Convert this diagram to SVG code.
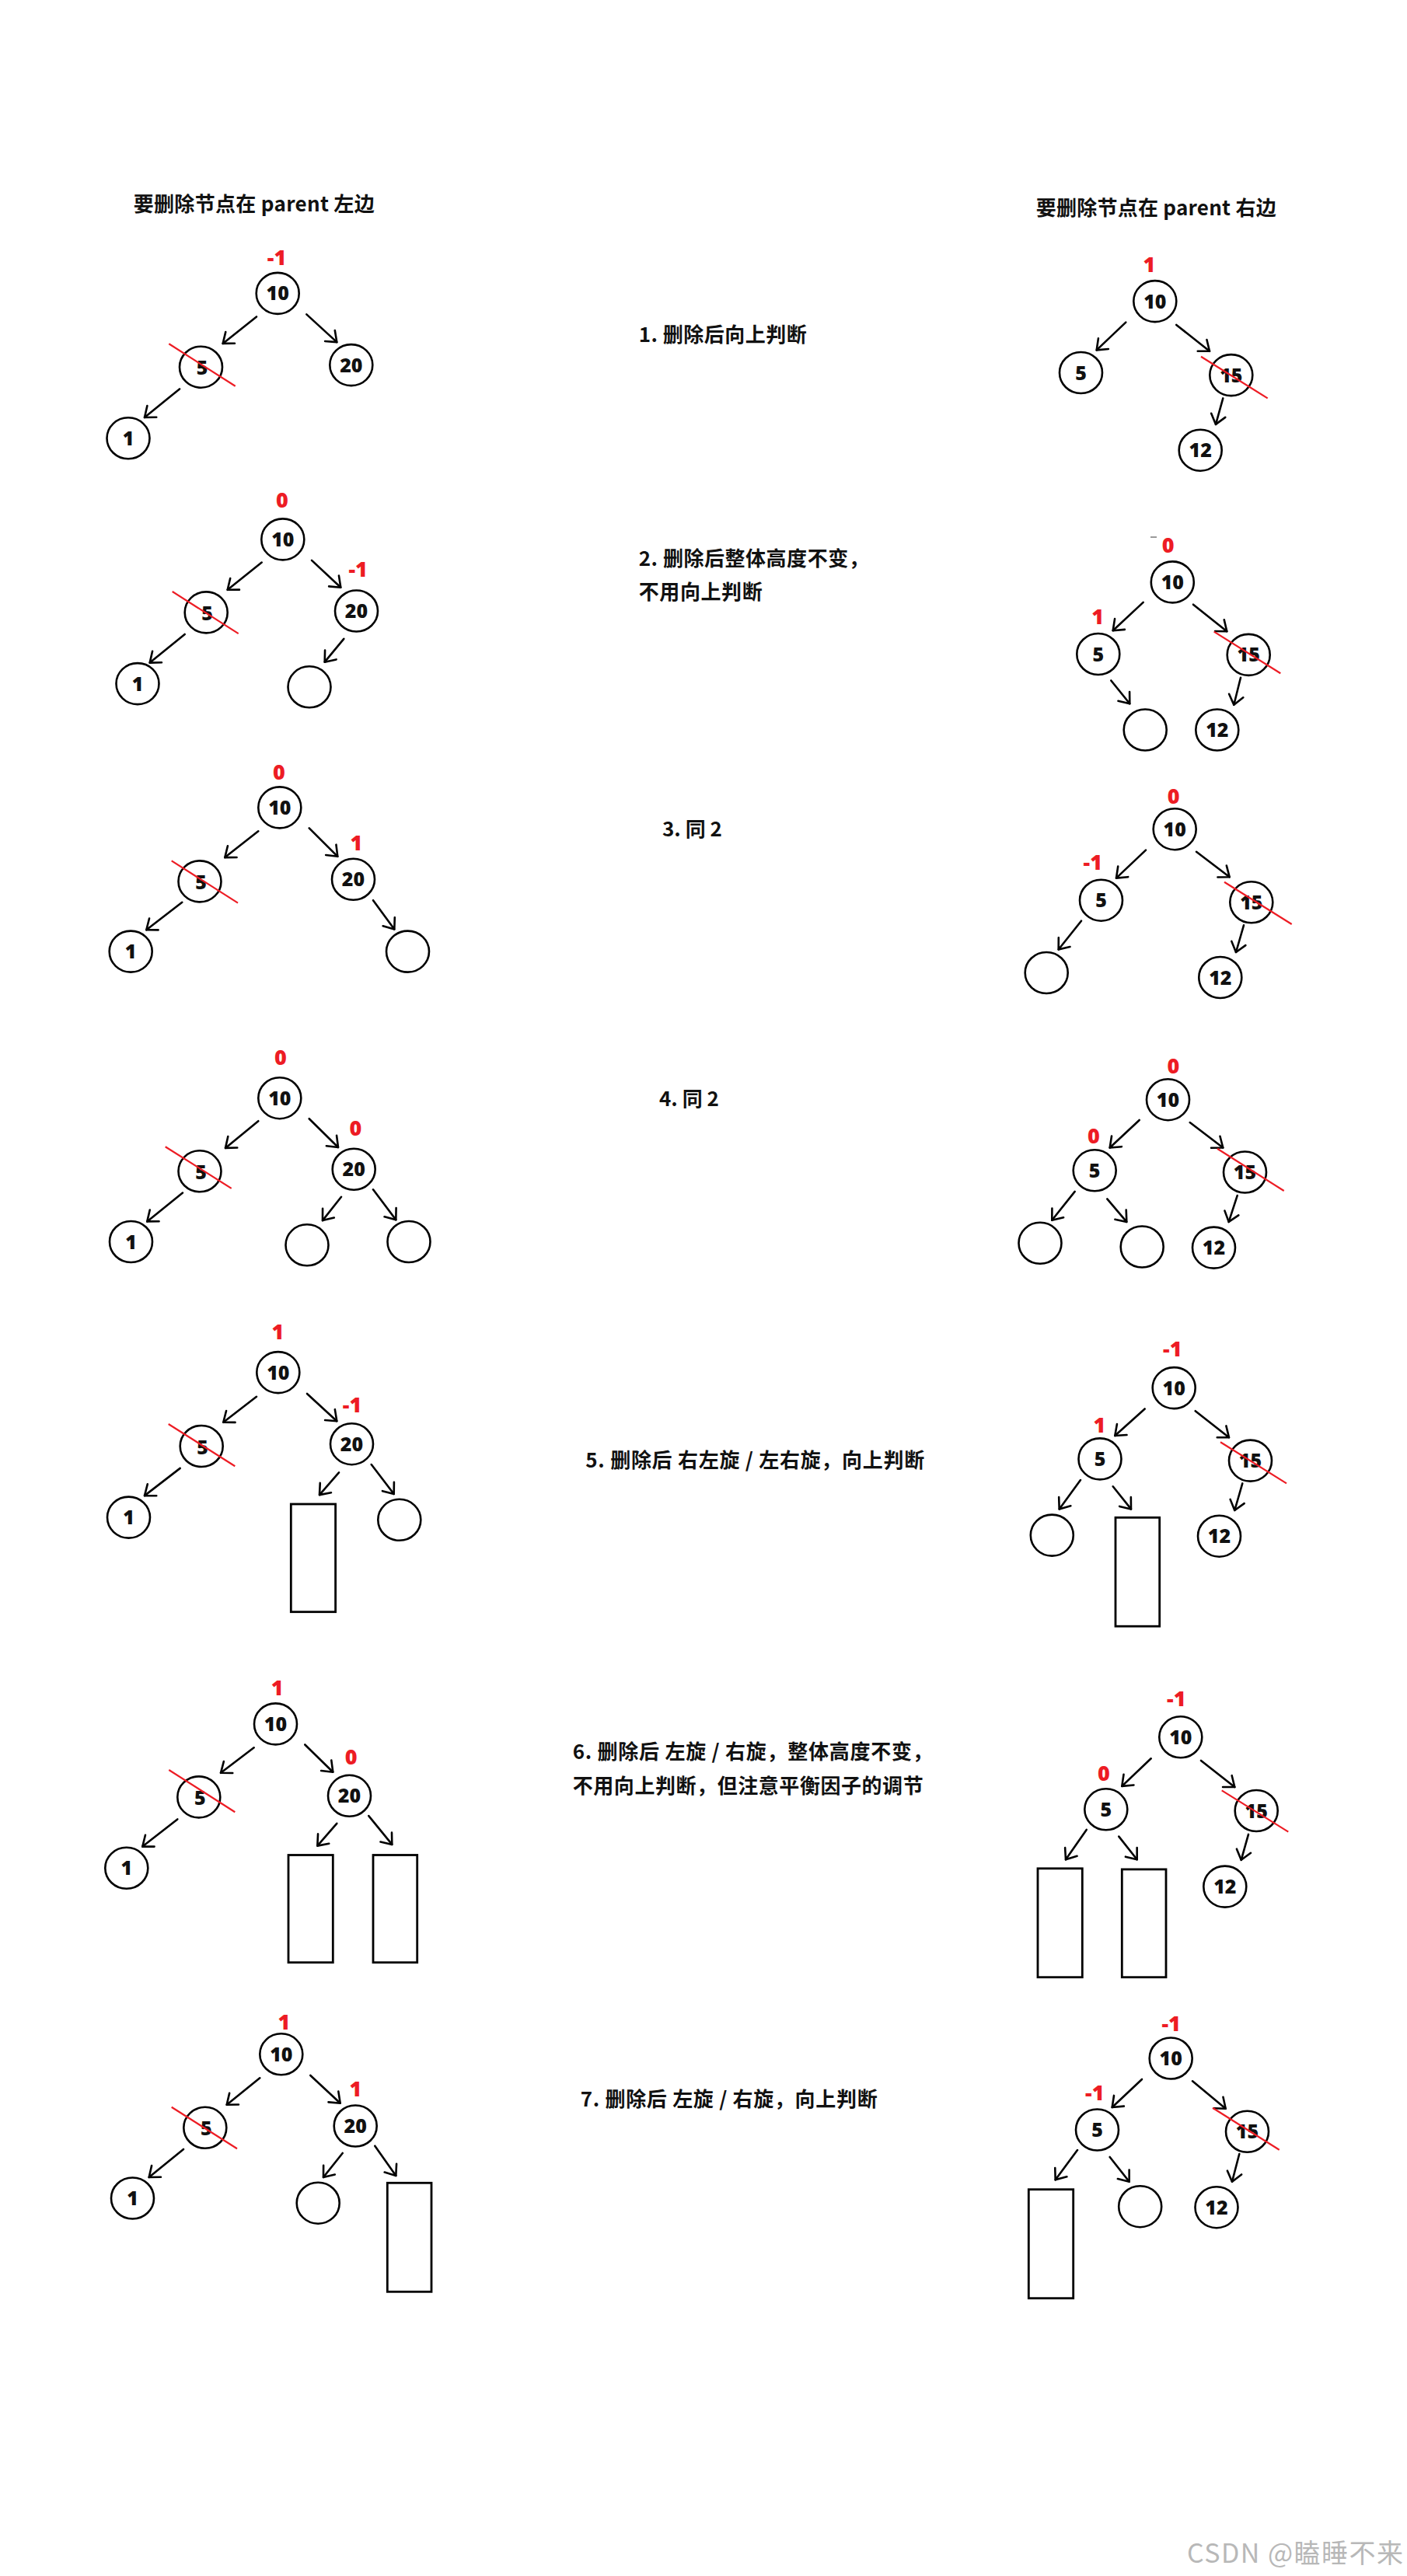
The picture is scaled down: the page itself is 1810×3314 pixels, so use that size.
<svg xmlns="http://www.w3.org/2000/svg" width="1810" height="3314" viewBox="0 0 1810 3314">
<style>
.bg{fill:#fff}
.nd ellipse{fill:#fff;stroke:#000;stroke-width:2.6}
.box{fill:#fff;stroke:#000;stroke-width:2.8}
.n{font-family:"Open Sans","Noto Sans",sans-serif;font-weight:800;font-size:25px;fill:#111;text-anchor:middle}
.bf{font-family:"Open Sans","Noto Sans",sans-serif;font-weight:800;font-size:27px;fill:#ed1c24;text-anchor:middle}
.st{stroke:#ed1c24;stroke-width:2.2}
.t{font-family:"Noto Sans CJK SC","Noto Sans CJK JP",sans-serif;font-weight:700;font-size:26px;fill:#111}
.wm{font-family:"Noto Sans CJK SC","Noto Sans",sans-serif;font-size:34px;fill:#b8b8b8}
#edges line{stroke:#000;stroke-width:2.6;stroke-linecap:round;marker-end:url(#ah)}
</style>
<defs>
<marker id="ah" markerUnits="userSpaceOnUse" markerWidth="24" markerHeight="24" refX="0" refY="0" orient="auto" style="overflow:visible">
<path d="M -12 -9.4 L 0 0 L -12 9.4" fill="none" stroke="#000" stroke-width="2.6" stroke-linecap="round" stroke-linejoin="round"/>
</marker>
</defs>
<rect class="bg" x="0" y="0" width="1810" height="3314"/>

<g id="texts">
<text class="t" x="171.7" y="272" textLength="310">要删除节点在 parent 左边</text>
<text class="t" x="1332.7" y="277" textLength="309">要删除节点在 parent 右边</text>
<text class="t" x="821.7" y="440" textLength="216">1. 删除后向上判断</text>
<text class="t" x="821.7" y="727.7" textLength="296">2. 删除后整体高度不变，</text>
<text class="t" x="821.7" y="771" textLength="159">不用向上判断</text>
<text class="t" x="852" y="1076">3. 同 2</text>
<text class="t" x="848" y="1423">4. 同 2</text>
<text class="t" x="753.3" y="1887.7" textLength="436">5. 删除后 右左旋 / 左右旋，向上判断</text>
<text class="t" x="736.7" y="2263.3" textLength="463">6. 删除后 左旋 / 右旋，整体高度不变，</text>
<text class="t" x="736.7" y="2306.7" textLength="451">不用向上判断，但注意平衡因子的调节</text>
<text class="t" x="746.7" y="2710" textLength="382">7. 删除后 左旋 / 右旋，向上判断</text>
<text class="wm" x="1527" y="3297" textLength="278">CSDN @瞌睡不来</text>
<line x1="1480" y1="691" x2="1488" y2="691" stroke="#9a9a9a" stroke-width="2"/>
</g>

<g id="edges">
<line x1="330" y1="407.5" x2="286.7" y2="441.9"/>
<line x1="394.3" y1="404.4" x2="433.3" y2="440.1"/>
<line x1="231" y1="500.4" x2="186" y2="537"/>
<line x1="336.7" y1="723.6" x2="292.7" y2="758.8"/>
<line x1="401" y1="720.9" x2="438.3" y2="755.7"/>
<line x1="442.3" y1="821.8" x2="417.7" y2="851.7"/>
<line x1="237.7" y1="816" x2="192.7" y2="852.6"/>
<line x1="332.3" y1="1069.3" x2="289.3" y2="1103.1"/>
<line x1="397.7" y1="1065.4" x2="434.3" y2="1101.8"/>
<line x1="480" y1="1158.2" x2="507.3" y2="1195.5"/>
<line x1="234.3" y1="1160.8" x2="188.3" y2="1196.3"/>
<line x1="332.3" y1="1442.2" x2="290" y2="1476.9"/>
<line x1="397.7" y1="1439.2" x2="435" y2="1476"/>
<line x1="439" y1="1539.8" x2="415" y2="1570.1"/>
<line x1="480" y1="1530.3" x2="509.3" y2="1569.3"/>
<line x1="235" y1="1534.6" x2="189.3" y2="1571.4"/>
<line x1="330" y1="1796.8" x2="287.3" y2="1829.8"/>
<line x1="395" y1="1793" x2="433.3" y2="1828.2"/>
<line x1="436" y1="1894.3" x2="411" y2="1923.1"/>
<line x1="477.7" y1="1884" x2="506.7" y2="1922"/>
<line x1="231.7" y1="1888.9" x2="186" y2="1924.1"/>
<line x1="326.7" y1="2248.3" x2="284" y2="2280.8"/>
<line x1="392.3" y1="2244.5" x2="428.3" y2="2279.7"/>
<line x1="433.3" y1="2345.8" x2="408.3" y2="2374.6"/>
<line x1="474.3" y1="2336.1" x2="504.3" y2="2372.9"/>
<line x1="228.3" y1="2340.4" x2="183.3" y2="2375.6"/>
<line x1="334.3" y1="2673.3" x2="291.7" y2="2707.7"/>
<line x1="399.3" y1="2670" x2="437.7" y2="2705.7"/>
<line x1="440.7" y1="2770" x2="416" y2="2801"/>
<line x1="482.3" y1="2760.7" x2="509.3" y2="2799"/>
<line x1="236" y1="2765" x2="191.7" y2="2801"/>
<line x1="1448.3" y1="414.6" x2="1410.7" y2="450.4"/>
<line x1="1513.3" y1="417.9" x2="1556" y2="451.8"/>
<line x1="1573.3" y1="512.4" x2="1564" y2="545.9"/>
<line x1="1470.7" y1="774.9" x2="1431.7" y2="811.2"/>
<line x1="1535" y1="777.7" x2="1578.3" y2="812.2"/>
<line x1="1429.3" y1="875.5" x2="1453.3" y2="905.3"/>
<line x1="1596" y1="871.8" x2="1587.3" y2="906.7"/>
<line x1="1474" y1="1093.6" x2="1436" y2="1129.6"/>
<line x1="1539" y1="1095.8" x2="1581.7" y2="1128.3"/>
<line x1="1391" y1="1184.7" x2="1361.7" y2="1221.5"/>
<line x1="1600" y1="1190.3" x2="1590" y2="1225"/>
<line x1="1465.7" y1="1441" x2="1427.7" y2="1476.5"/>
<line x1="1530.7" y1="1444" x2="1573.3" y2="1476.5"/>
<line x1="1382.7" y1="1532.9" x2="1353.3" y2="1569.8"/>
<line x1="1424.3" y1="1542.4" x2="1449.3" y2="1571.9"/>
<line x1="1591.7" y1="1538.1" x2="1580.7" y2="1571.9"/>
<line x1="1472.7" y1="1812.5" x2="1434.3" y2="1847"/>
<line x1="1537.7" y1="1815.2" x2="1581" y2="1849.2"/>
<line x1="1390" y1="1904.1" x2="1362.7" y2="1941.4"/>
<line x1="1431.7" y1="1912.3" x2="1455" y2="1941.4"/>
<line x1="1598.3" y1="1908.4" x2="1588.3" y2="1943"/>
<line x1="1480.7" y1="2262.3" x2="1443.3" y2="2297.9"/>
<line x1="1545" y1="2265" x2="1588.3" y2="2299"/>
<line x1="1397.7" y1="2353.9" x2="1371" y2="2392.3"/>
<line x1="1439.3" y1="2362.6" x2="1462.7" y2="2392.3"/>
<line x1="1606" y1="2359.9" x2="1596.7" y2="2392.8"/>
<line x1="1469" y1="2675" x2="1430.7" y2="2711"/>
<line x1="1534" y1="2677.3" x2="1576.7" y2="2712.7"/>
<line x1="1386" y1="2766" x2="1357.7" y2="2804.3"/>
<line x1="1427.7" y1="2775" x2="1452.7" y2="2806.7"/>
<line x1="1594.3" y1="2771" x2="1585" y2="2806.7"/>
</g>

<g id="L1_10" class="nd"><ellipse cx="357.2" cy="377.4" rx="27.5" ry="26.5"/><text class="n" x="357.2" y="386.4">10</text><text class="bf" x="356" y="340.5">-1</text></g>
<g id="L1_5" class="nd"><ellipse cx="258.5" cy="472.2" rx="27.5" ry="26.5"/><text class="n" x="260" y="482.2">5</text><line class="st" x1="217.3" y1="442.3" x2="302.7" y2="496.8"/></g>
<g id="L1_20" class="nd"><ellipse cx="451.8" cy="469.6" rx="27.5" ry="26.5"/><text class="n" x="451.8" y="478.6">20</text></g>
<g id="L1_1" class="nd"><ellipse cx="165" cy="563.8" rx="27.5" ry="26.5"/><text class="n" x="165" y="572.8">1</text></g>

<g id="L2_10" class="nd"><ellipse cx="363.8" cy="693.9" rx="27.5" ry="26.5"/><text class="n" x="363.8" y="702.9">10</text><text class="bf" x="363" y="653">0</text></g>
<g id="L2_5" class="nd"><ellipse cx="265.2" cy="787.9" rx="27.5" ry="26.5"/><text class="n" x="266.5" y="797.9">5</text><line class="st" x1="221.7" y1="761" x2="306.7" y2="815.1"/></g>
<g id="L2_20" class="nd"><ellipse cx="458.5" cy="786" rx="27.5" ry="26.5"/><text class="n" x="458.5" y="795">20</text><text class="bf" x="460.7" y="742.3">-1</text></g>
<g id="L2_1" class="nd"><ellipse cx="177" cy="879.6" rx="27.5" ry="26.5"/><text class="n" x="177" y="888.6">1</text></g>
<g id="L2_e" class="nd"><ellipse cx="398" cy="883.8" rx="27.5" ry="26.5"/></g>

<g id="L3_10" class="nd"><ellipse cx="359.8" cy="1038.9" rx="27.5" ry="26.5"/><text class="n" x="359.8" y="1047.9">10</text><text class="bf" x="359" y="1003.4">0</text></g>
<g id="L3_5" class="nd"><ellipse cx="257" cy="1133.9" rx="27.5" ry="26.5"/><text class="n" x="258.5" y="1143.9">5</text><line class="st" x1="220.7" y1="1107.4" x2="306" y2="1161.6"/></g>
<g id="L3_20" class="nd"><ellipse cx="454.5" cy="1131.3" rx="27.5" ry="26.5"/><text class="n" x="454.5" y="1140.3">20</text><text class="bf" x="458.3" y="1093.6">1</text></g>
<g id="L3_1" class="nd"><ellipse cx="168.2" cy="1224.1" rx="27.5" ry="26.5"/><text class="n" x="168.2" y="1233.1">1</text></g>
<g id="L3_e" class="nd"><ellipse cx="524.5" cy="1224.1" rx="27.5" ry="26.5"/></g>

<g id="L4_10" class="nd"><ellipse cx="359.8" cy="1412.7" rx="27.5" ry="26.5"/><text class="n" x="359.8" y="1421.7">10</text><text class="bf" x="360.8" y="1369.8">0</text></g>
<g id="L4_5" class="nd"><ellipse cx="257" cy="1506.8" rx="27.5" ry="26.5"/><text class="n" x="258.5" y="1516.8">5</text><line class="st" x1="212.7" y1="1475.2" x2="297.7" y2="1528.9"/></g>
<g id="L4_20" class="nd"><ellipse cx="455.2" cy="1504.2" rx="27.5" ry="26.5"/><text class="n" x="455.2" y="1513.2">20</text><text class="bf" x="457.5" y="1460.9">0</text></g>
<g id="L4_1" class="nd"><ellipse cx="168.5" cy="1597.5" rx="27.5" ry="26.5"/><text class="n" x="168.5" y="1606.5">1</text></g>
<g id="L4_e1" class="nd"><ellipse cx="395" cy="1601.8" rx="27.5" ry="26.5"/></g>
<g id="L4_e2" class="nd"><ellipse cx="526" cy="1597.5" rx="27.5" ry="26.5"/></g>

<g id="L5_10" class="nd"><ellipse cx="357.8" cy="1765.6" rx="27.5" ry="26.5"/><text class="n" x="357.8" y="1774.6">10</text><text class="bf" x="357.3" y="1722.5">1</text></g>
<g id="L5_5" class="nd"><ellipse cx="259.2" cy="1860.5" rx="27.5" ry="26.5"/><text class="n" x="260.7" y="1870.5">5</text><line class="st" x1="216.7" y1="1832" x2="302.3" y2="1886.2"/></g>
<g id="L5_20" class="nd"><ellipse cx="452.5" cy="1857.7" rx="27.5" ry="26.5"/><text class="n" x="452.5" y="1866.7">20</text><text class="bf" x="453" y="1817.4">-1</text></g>
<g id="L5_1" class="nd"><ellipse cx="165.5" cy="1952.1" rx="27.5" ry="26.5"/><text class="n" x="165.5" y="1961.1">1</text></g>
<g id="L5_r" class="nd"><rect class="box" x="374.3" y="1935" width="57.3" height="138.7"/></g>
<g id="L5_e" class="nd"><ellipse cx="513.8" cy="1955.3" rx="27.5" ry="26.5"/></g>

<g id="L6_10" class="nd"><ellipse cx="354.5" cy="2217.9" rx="27.5" ry="26.5"/><text class="n" x="354.5" y="2226.9">10</text><text class="bf" x="356.7" y="2180.5">1</text></g>
<g id="L6_5" class="nd"><ellipse cx="255.8" cy="2311.9" rx="27.5" ry="26.5"/><text class="n" x="257.3" y="2321.9">5</text><line class="st" x1="217.3" y1="2277" x2="302.3" y2="2331.2"/></g>
<g id="L6_20" class="nd"><ellipse cx="449.5" cy="2310.3" rx="27.5" ry="26.5"/><text class="n" x="449.5" y="2319.3">20</text><text class="bf" x="451.7" y="2269.9">0</text></g>
<g id="L6_1" class="nd"><ellipse cx="162.8" cy="2403.3" rx="27.5" ry="26.5"/><text class="n" x="162.8" y="2412.3">1</text></g>
<g id="L6_r1" class="nd"><rect class="box" x="371" y="2386.5" width="57.3" height="138.2"/></g>
<g id="L6_r2" class="nd"><rect class="box" x="480" y="2386.5" width="56.7" height="138.2"/></g>

<g id="L7_10" class="nd"><ellipse cx="361.8" cy="2642.8" rx="27.5" ry="26.5"/><text class="n" x="361.8" y="2651.8">10</text><text class="bf" x="365.5" y="2611">1</text></g>
<g id="L7_5" class="nd"><ellipse cx="263.8" cy="2737.3" rx="27.5" ry="26.5"/><text class="n" x="265.3" y="2747.3">5</text><line class="st" x1="220.7" y1="2710.7" x2="305" y2="2764.3"/></g>
<g id="L7_20" class="nd"><ellipse cx="457.2" cy="2735" rx="27.5" ry="26.5"/><text class="n" x="457.2" y="2744">20</text><text class="bf" x="457.5" y="2696.7">1</text></g>
<g id="L7_1" class="nd"><ellipse cx="170.5" cy="2828" rx="27.5" ry="26.5"/><text class="n" x="170.5" y="2837">1</text></g>
<g id="L7_e" class="nd"><ellipse cx="409.2" cy="2834.2" rx="27.5" ry="26.5"/></g>
<g id="L7_r" class="nd"><rect class="box" x="498.3" y="2808.3" width="56.7" height="140"/></g>

<g id="R1_10" class="nd"><ellipse cx="1485.8" cy="387.6" rx="27.5" ry="26.5"/><text class="n" x="1485.8" y="396.6">10</text><text class="bf" x="1478.3" y="350.4">1</text></g>
<g id="R1_5" class="nd"><ellipse cx="1390.5" cy="479.5" rx="27.5" ry="26.5"/><text class="n" x="1390.5" y="488.5">5</text></g>
<g id="R1_15" class="nd"><ellipse cx="1583.8" cy="482.6" rx="27.5" ry="26.5"/><text class="n" x="1583.8" y="491.6">15</text><line class="st" x1="1545" y1="458.8" x2="1630.7" y2="512.4"/></g>
<g id="R1_12" class="nd"><ellipse cx="1544.2" cy="579.2" rx="27.5" ry="26.5"/><text class="n" x="1544.2" y="588.2">12</text></g>

<g id="R2_10" class="nd"><ellipse cx="1508.3" cy="748.9" rx="27.5" ry="26.5"/><text class="n" x="1508.3" y="757.9">10</text><text class="bf" x="1502.7" y="711.2">0</text></g>
<g id="R2_5" class="nd"><ellipse cx="1412.8" cy="841.5" rx="27.5" ry="26.5"/><text class="n" x="1412.8" y="850.5">5</text><text class="bf" x="1412.2" y="802.9">1</text></g>
<g id="R2_15" class="nd"><ellipse cx="1606.2" cy="842.4" rx="27.5" ry="26.5"/><text class="n" x="1606.2" y="851.4">15</text><line class="st" x1="1561.7" y1="812.6" x2="1647.3" y2="866.2"/></g>
<g id="R2_e" class="nd"><ellipse cx="1473.2" cy="939" rx="27.5" ry="26.5"/></g>
<g id="R2_12" class="nd"><ellipse cx="1565.8" cy="939" rx="27.5" ry="26.5"/><text class="n" x="1565.8" y="948">12</text></g>

<g id="R3_10" class="nd"><ellipse cx="1511.2" cy="1066.7" rx="27.5" ry="26.5"/><text class="n" x="1511.2" y="1075.7">10</text><text class="bf" x="1509.7" y="1034.2">0</text></g>
<g id="R3_5" class="nd"><ellipse cx="1416.5" cy="1158.2" rx="27.5" ry="26.5"/><text class="n" x="1416.5" y="1167.2">5</text><text class="bf" x="1405.8" y="1118.8">-1</text></g>
<g id="R3_15" class="nd"><ellipse cx="1609.8" cy="1160.8" rx="27.5" ry="26.5"/><text class="n" x="1609.8" y="1169.8">15</text><line class="st" x1="1575" y1="1134.8" x2="1661.7" y2="1189"/></g>
<g id="R3_e" class="nd"><ellipse cx="1346.2" cy="1251.5" rx="27.5" ry="26.5"/></g>
<g id="R3_12" class="nd"><ellipse cx="1569.8" cy="1257.5" rx="27.5" ry="26.5"/><text class="n" x="1569.8" y="1266.5">12</text></g>

<g id="R4_10" class="nd"><ellipse cx="1502.5" cy="1414.7" rx="27.5" ry="26.5"/><text class="n" x="1502.5" y="1423.7">10</text><text class="bf" x="1509.3" y="1381.1">0</text></g>
<g id="R4_5" class="nd"><ellipse cx="1408.2" cy="1505.8" rx="27.5" ry="26.5"/><text class="n" x="1408.2" y="1514.8">5</text><text class="bf" x="1407" y="1471.3">0</text></g>
<g id="R4_15" class="nd"><ellipse cx="1601.5" cy="1508" rx="27.5" ry="26.5"/><text class="n" x="1601.5" y="1517">15</text><line class="st" x1="1566" y1="1477.8" x2="1651.7" y2="1532"/></g>
<g id="R4_e1" class="nd"><ellipse cx="1338" cy="1599.3" rx="27.5" ry="26.5"/></g>
<g id="R4_e2" class="nd"><ellipse cx="1469.2" cy="1604" rx="27.5" ry="26.5"/></g>
<g id="R4_12" class="nd"><ellipse cx="1561.5" cy="1605.1" rx="27.5" ry="26.5"/><text class="n" x="1561.5" y="1614.1">12</text></g>

<g id="R5_10" class="nd"><ellipse cx="1510.2" cy="1785.6" rx="27.5" ry="26.5"/><text class="n" x="1510.2" y="1794.6">10</text><text class="bf" x="1508.3" y="1745">-1</text></g>
<g id="R5_5" class="nd"><ellipse cx="1415" cy="1876.9" rx="27.5" ry="26.5"/><text class="n" x="1415" y="1885.9">5</text><text class="bf" x="1414.3" y="1842.6">1</text></g>
<g id="R5_15" class="nd"><ellipse cx="1608.5" cy="1879.1" rx="27.5" ry="26.5"/><text class="n" x="1608.5" y="1888.1">15</text><line class="st" x1="1570" y1="1855.2" x2="1655" y2="1908.4"/></g>
<g id="R5_e" class="nd"><ellipse cx="1353.3" cy="1975.1" rx="27.5" ry="26.5"/></g>
<g id="R5_r" class="nd"><rect class="box" x="1435" y="1952.3" width="56.7" height="139.9"/></g>
<g id="R5_12" class="nd"><ellipse cx="1568.5" cy="1976.2" rx="27.5" ry="26.5"/><text class="n" x="1568.5" y="1985.2">12</text></g>

<g id="R6_10" class="nd"><ellipse cx="1518.8" cy="2234.8" rx="27.5" ry="26.5"/><text class="n" x="1518.8" y="2243.8">10</text><text class="bf" x="1513.3" y="2194.8">-1</text></g>
<g id="R6_5" class="nd"><ellipse cx="1422.8" cy="2327.8" rx="27.5" ry="26.5"/><text class="n" x="1422.8" y="2336.8">5</text><text class="bf" x="1420" y="2291.3">0</text></g>
<g id="R6_15" class="nd"><ellipse cx="1616.2" cy="2329.5" rx="27.5" ry="26.5"/><text class="n" x="1616.2" y="2338.5">15</text><line class="st" x1="1571.7" y1="2303.4" x2="1657.3" y2="2356.6"/></g>
<g id="R6_r1" class="nd"><rect class="box" x="1335" y="2403.8" width="57.3" height="139.9"/></g>
<g id="R6_r2" class="nd"><rect class="box" x="1443.3" y="2404.9" width="56.7" height="138.8"/></g>
<g id="R6_12" class="nd"><ellipse cx="1575.8" cy="2427.1" rx="27.5" ry="26.5"/><text class="n" x="1575.8" y="2436.1">12</text></g>

<g id="R7_10" class="nd"><ellipse cx="1506.2" cy="2648" rx="27.5" ry="26.5"/><text class="n" x="1506.2" y="2657">10</text><text class="bf" x="1506.7" y="2613.3">-1</text></g>
<g id="R7_5" class="nd"><ellipse cx="1411.5" cy="2740" rx="27.5" ry="26.5"/><text class="n" x="1411.5" y="2749">5</text><text class="bf" x="1408.3" y="2701.7">-1</text></g>
<g id="R7_15" class="nd"><ellipse cx="1604.5" cy="2742.3" rx="27.5" ry="26.5"/><text class="n" x="1604.5" y="2751.3">15</text><line class="st" x1="1560" y1="2711.7" x2="1645.7" y2="2765.7"/></g>
<g id="R7_r" class="nd"><rect class="box" x="1323.3" y="2816.7" width="57.4" height="140"/></g>
<g id="R7_e" class="nd"><ellipse cx="1466.7" cy="2838.7" rx="27.5" ry="26.5"/></g>
<g id="R7_12" class="nd"><ellipse cx="1565" cy="2839.7" rx="27.5" ry="26.5"/><text class="n" x="1565" y="2848.7">12</text></g>
</svg>
